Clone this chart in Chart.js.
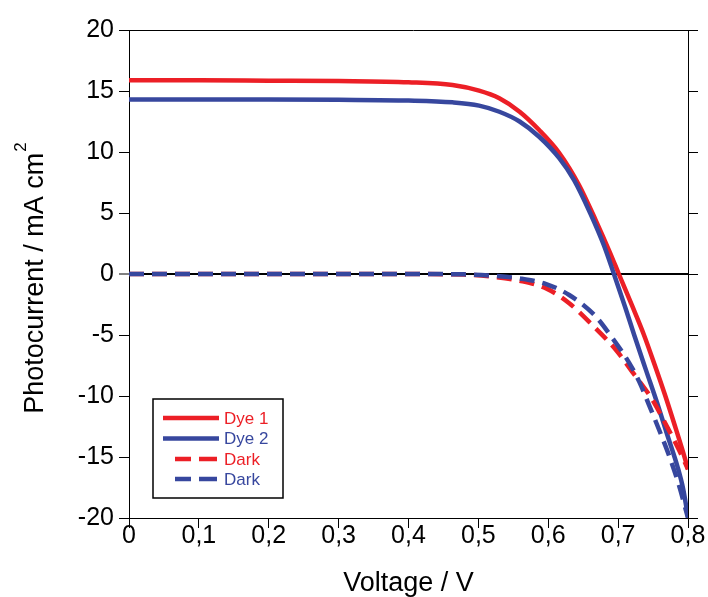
<!DOCTYPE html>
<html>
<head>
<meta charset="utf-8">
<script src="https://cdn.jsdelivr.net/npm/chart.js@4.4.1/dist/chart.umd.min.js"></script>
<style>
  html, body { margin: 0; padding: 0; background: #fff; }
  #wrap { width: 708px; height: 597px; }
</style>
</head>
<body>
<div id="wrap"><canvas id="c" width="708" height="597"></canvas></div>
<script>
// ---- Data ----
const seriesLabels = ['Dye 1', 'Dye 2', 'Dark', 'Dark'];

const dye1V = [0, 0.1, 0.2, 0.3, 0.4, 0.463, 0.501, 0.53, 0.559, 0.587, 0.616, 0.644, 0.668, 0.688, 0.701, 0.72, 0.737, 0.752, 0.767, 0.781, 0.794, 0.8];
const dye1I = [15.88, 15.88, 15.85, 15.82, 15.72, 15.49, 15.03, 14.4, 13.3, 11.8, 9.9, 7.3, 4.4, 1.8, 0, -2.6, -5.0, -7.4, -9.9, -12.4, -14.8, -16.0];

const dye2V = [0, 0.1, 0.2, 0.3, 0.4, 0.463, 0.501, 0.53, 0.559, 0.587, 0.616, 0.637, 0.66, 0.68, 0.694, 0.71, 0.723, 0.74, 0.756, 0.771, 0.785, 0.793, 0.8];
const dye2I = [14.3, 14.3, 14.3, 14.28, 14.22, 14.07, 13.8, 13.3, 12.5, 11.25, 9.48, 7.7, 5.0, 2.3, 0, -2.7, -5.0, -7.9, -10.6, -13.3, -15.8, -17.6, -19.9];

const dark1V = [0, 0.1, 0.2, 0.3, 0.4, 0.48, 0.52, 0.559, 0.597, 0.63, 0.663, 0.697, 0.72, 0.749, 0.768, 0.787, 0.8];
const dark1I = [0, 0, 0, 0, 0, -0.05, -0.22, -0.55, -1.18, -2.4, -4.18, -6.23, -8.0, -10.3, -12.3, -14.4, -16.0];

const dark2V = [0, 0.1, 0.2, 0.3, 0.4, 0.48, 0.52, 0.559, 0.597, 0.63, 0.666, 0.692, 0.716, 0.73, 0.744, 0.763, 0.773, 0.787, 0.8];
const dark2I = [0, 0, 0, 0, 0, -0.03, -0.14, -0.36, -0.82, -1.72, -3.36, -5.27, -7.3, -8.8, -10.7, -13.4, -14.9, -17.3, -20];

const xTicks = [0, 0.1, 0.2, 0.3, 0.4, 0.5, 0.6, 0.7, 0.8];
const yTicks = [-20, -15, -10, -5, 0, 5, 10, 15, 20];

const RED = '#ec1f26';
const BLUE = '#37479e';
const FONT = "'Liberation Sans', Arial, Helvetica, sans-serif";

const pts = (vs, is) => vs.map((v, i) => ({ x: v, y: is[i] }));

// ---- Plugin: frame, right-side ticks, y title, legend box ----
const decor = {
  id: 'decor',
  afterDraw(chart) {
    const { ctx, chartArea: a, scales } = chart;
    const ys = scales.y;
    ctx.save();
    ctx.strokeStyle = '#000';
    ctx.lineWidth = 1;
    ctx.beginPath();
    ctx.moveTo(a.left, a.top + 0.5);
    ctx.lineTo(a.right + 10, a.top + 0.5);
    ctx.moveTo(a.right + 0.5, a.top);
    ctx.lineTo(a.right + 0.5, a.bottom);
    yTicks.forEach(v => {
      const py = Math.round(ys.getPixelForValue(v)) + 0.5;
      ctx.moveTo(a.right, py);
      ctx.lineTo(a.right + 10, py);
    });
    ctx.stroke();

    // y-axis title with superscript
    ctx.fillStyle = '#000';
    ctx.translate(43, 278);
    ctx.rotate(-Math.PI / 2);
    ctx.textBaseline = 'alphabetic';
    ctx.textAlign = 'left';
    ctx.font = '27px ' + FONT;
    const main = 'Photocurrent / mA cm';
    const wMain = ctx.measureText(main).width;
    ctx.font = '17px ' + FONT;
    const wSup = ctx.measureText('2').width;
    const total = wMain + wSup + 1;
    ctx.font = '27px ' + FONT;
    ctx.fillText(main, -total / 2, 0);
    ctx.font = '17px ' + FONT;
    ctx.fillText('2', -total / 2 + wMain + 1, -17);
    ctx.restore();

    // legend box
    ctx.save();
    const bx = 153, by = 399, bw = 130, bh = 99;
    ctx.strokeStyle = '#000';
    ctx.lineWidth = 1.5;
    ctx.strokeRect(bx, by, bw, bh);
    const rows = [418, 438.5, 459, 479];
    chart.data.datasets.forEach((ds, i) => {
      const y = rows[i];
      ctx.strokeStyle = ds.borderColor;
      ctx.lineWidth = 4.5;
      ctx.beginPath();
      if (ds.borderDash && ds.borderDash.length) {
        ctx.moveTo(175, y); ctx.lineTo(191, y);
        ctx.moveTo(199, y); ctx.lineTo(217, y);
      } else {
        ctx.moveTo(163, y); ctx.lineTo(219, y);
      }
      ctx.stroke();
      ctx.fillStyle = ds.borderColor;
      ctx.font = '17px ' + FONT;
      ctx.textBaseline = 'middle';
      ctx.textAlign = 'left';
      ctx.fillText(ds.label, 224, y + 1);
    });
    ctx.restore();
  }
};

new Chart(document.getElementById('c'), {
  type: 'line',
  data: {
    datasets: [
      { label: seriesLabels[0], data: pts(dye1V, dye1I), borderColor: RED, borderWidth: 4.5, order: 3 },
      { label: seriesLabels[1], data: pts(dye2V, dye2I), borderColor: BLUE, borderWidth: 4.5, order: 2 },
      { label: seriesLabels[2], data: pts(dark1V, dark1I), borderColor: RED, borderWidth: 4.5, borderDash: [15, 8], order: 1 },
      { label: seriesLabels[3], data: pts(dark2V, dark2I), borderColor: BLUE, borderWidth: 4.5, borderDash: [15, 8], order: 0 }
    ]
  },
  options: {
    responsive: false,
    animation: false,
    devicePixelRatio: 1,
    layout: { padding: { top: 30, right: 20, left: 0, bottom: 0 } },
    elements: {
      point: { radius: 0 },
      line: { cubicInterpolationMode: 'monotone', fill: false, borderCapStyle: 'butt' }
    },
    plugins: { legend: { display: false }, tooltip: { enabled: false } },
    scales: {
      x: {
        type: 'linear',
        min: 0, max: 0.8,
        afterBuildTicks: s => { s.ticks = xTicks.map(v => ({ value: v })); },
        afterFit: s => { s.height = 79; },
        border: { display: true, color: '#000', width: 1 },
        grid: { drawOnChartArea: false, drawTicks: true, tickLength: 10, color: '#000', tickColor: '#000', tickWidth: 1 },
        ticks: {
          color: '#000',
          font: { size: 25, family: FONT },
          padding: -7,
          maxRotation: 0,
          callback: v => v === 0 ? '0' : v.toFixed(1).replace('.', ',')
        },
        title: { display: true, text: 'Voltage / V', color: '#000', font: { size: 27, family: FONT, lineHeight: 1.0 }, padding: { top: 0, bottom: 0 } }
      },
      y: {
        type: 'linear',
        min: -20, max: 20,
        afterBuildTicks: s => { s.ticks = yTicks.map(v => ({ value: v })); },
        afterFit: s => { s.width = 129; },
        border: { display: true, color: '#000', width: 1 },
        grid: {
          drawOnChartArea: true,
          drawTicks: true,
          tickLength: 10,
          color: c => (c.tick && c.tick.value === 0) ? '#000' : 'rgba(0,0,0,0)',
          lineWidth: c => (c.tick && c.tick.value === 0) ? 2 : 1,
          tickColor: '#000',
          tickWidth: 1
        },
        ticks: {
          color: '#000',
          font: { size: 25, family: FONT },
          padding: 5
        }
      }
    }
  },
  plugins: [decor]
});
</script>
</body>
</html>
